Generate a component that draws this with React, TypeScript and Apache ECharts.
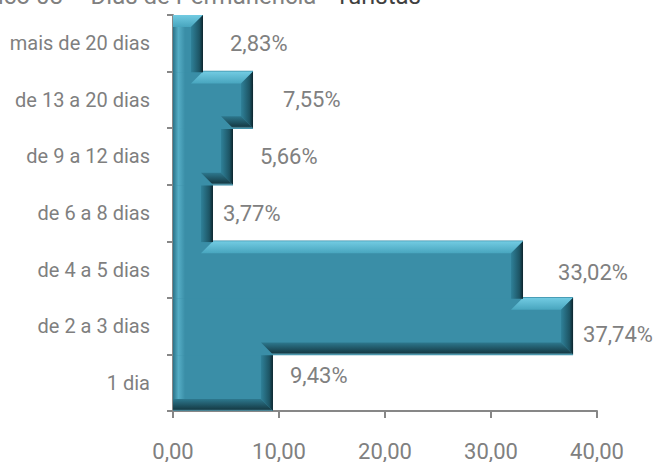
import React, { useEffect, useRef } from "react";
import * as echarts from "echarts";

const categories = [
  "1 dia",
  "de 2 a 3 dias",
  "de 4 a 5 dias",
  "de 6 a 8 dias",
  "de 9 a 12 dias",
  "de 13 a 20 dias",
  "mais de 20 dias",
];
const values = [9.43, 37.74, 33.02, 3.77, 5.66, 7.55, 2.83];
const xTicks = { min: 0, max: 40, interval: 10 };
const titleMain = "Gráfico 08 – Dias de Permanência - ";
const titleEnd = "Turistas";

// label nudges (style only)
const labelDx = [17, 10, 35, 10, 27, 30, 27];
const labelDy = [-7, 8, 3, 0, 0, 0, 0];

const fmt = (v: number, d = 2) => v.toFixed(d).replace(".", ",");

export default function App() {
  const ref = useRef<HTMLDivElement>(null);
  useEffect(() => {
    if (!ref.current) return;
    const chart = echarts.init(ref.current, undefined, { renderer: "svg" });
    const LG = echarts.graphic.LinearGradient;
    const font = "Roboto";
    const option: any = {
      animation: false,
      backgroundColor: "#ffffff",
      grid: { left: 173, right: 63, top: 15, bottom: 49 },
      graphic: [
        {
          type: "text",
          right: 660 - 421,
          top: -16,
          style: {
            text: "{a|" + titleMain + "}{b|" + titleEnd + "}",
            rich: {
              a: { fontSize: 24, fontFamily: font, fill: "#808080" },
              b: { fontSize: 24, fontFamily: font, fill: "#404040" },
            },
          },
        },
      ],
      xAxis: {
        type: "value",
        min: xTicks.min,
        max: xTicks.max,
        interval: xTicks.interval,
        splitLine: { show: false },
        axisLine: { show: true, lineStyle: { color: "#878787", width: 2 } },
        axisTick: { show: true, length: 7, lineStyle: { color: "#878787", width: 2 } },
        axisLabel: {
          margin: 29,
          fontSize: 22,
          fontFamily: font,
          color: "#808080",
          formatter: (v: number) => fmt(v),
        },
      },
      yAxis: {
        type: "category",
        data: categories,
        axisLine: { show: true, lineStyle: { color: "#878787", width: 2 } },
        axisTick: { show: true, length: 6, lineStyle: { color: "#878787", width: 2 } },
        axisLabel: { margin: 23, fontSize: 20, fontFamily: font, color: "#7f7f7f" },
      },
      series: [
        {
          type: "custom",
          encode: { x: 0, y: 1 },
          data: values.map((v, i) => [v, i]),
          z: 1,
          renderItem: (params: any, api: any) => {
            const i = params.dataIndex;
            const v = api.value(0) as number;
            const upper = i + 1 < values.length ? values[i + 1] : 0;
            const lower = i - 1 >= 0 ? values[i - 1] : 0;
            const c0 = api.coord([0, i]);
            const c1 = api.coord([v, i]);
            const h = api.size([0, 1])[1];
            const x0 = c0[0];
            const x1 = c1[0];
            const yc = c1[1];
            const y0 = yc - h / 2;
            const y1 = yc + h / 2;
            const xu = api.coord([upper, i])[0];
            const xl = api.coord([lower, i])[0];
            const b = Math.min(12, (x1 - x0) / 2.2, h / 3);
            const ov = 0.8;
            const children: any[] = [];
            children.push({
              type: "rect",
              shape: {
                x: x0,
                y: y0 - (upper > 0 ? ov : 0),
                width: x1 - x0,
                height: h + (upper > 0 ? ov : 0) + (lower > 0 ? ov : 0),
              },
              style: { fill: "#3a8ea7" },
            });
            children.push({
              type: "rect",
              shape: {
                x: x0,
                y: y0 - (upper > 0 ? ov : 0),
                width: b,
                height: h + (upper > 0 ? ov : 0) + (lower > 0 ? ov : 0),
              },
              style: {
                fill: new LG(0, 0, 1, 0, [
                  { offset: 0, color: "#2b7389" },
                  { offset: 0.45, color: "#55adc5" },
                  { offset: 1, color: "#3a8ea7" },
                ]),
              },
            });
            if (x1 > xu + 0.5) {
              const xa = Math.max(xu, x0);
              const xb = Math.max(xu - b, x0);
              children.push({
                type: "polygon",
                shape: {
                  points: [
                    [xa, y0],
                    [x1, y0],
                    [x1 - b, y0 + b],
                    [xb, y0 + b],
                  ],
                },
                style: {
                  fill: new LG(0, 0, 0, 1, [
                    { offset: 0, color: "#72cbe2" },
                    { offset: 1, color: "#48a5be" },
                  ]),
                },
              });
            }
            const rt = xu >= x1 - 0.5 ? y0 - ov : y0 + b;
            const rb = xl >= x1 - 0.5 ? y1 + ov : y1 - b;
            children.push({
              type: "polygon",
              shape: {
                points: [
                  [x1, xu >= x1 - 0.5 ? y0 - ov : y0],
                  [x1, xl >= x1 - 0.5 ? y1 + ov : y1],
                  [x1 - b, rb],
                  [x1 - b, rt],
                ],
              },
              style: {
                fill: new LG(0, 0, 1, 0, [
                  { offset: 0, color: "#2f8199" },
                  { offset: 0.7, color: "#1d5565" },
                  { offset: 1, color: "#0c242c" },
                ]),
              },
            });
            if (x1 > xl + 0.5) {
              const xa = Math.max(xl, x0);
              const xb = Math.max(xl - b, x0);
              children.push({
                type: "polygon",
                shape: {
                  points: [
                    [xa, y1],
                    [x1, y1],
                    [x1 - b, y1 - b],
                    [xb, y1 - b],
                  ],
                },
                style: {
                  fill: new LG(0, 0, 0, 1, [
                    { offset: 0, color: "#2d788e" },
                    { offset: 0.85, color: "#163d48" },
                    { offset: 1, color: "#5c9fb2" },
                  ]),
                },
              });
            }
            children.push({
              type: "text",
              x: x1 + labelDx[i],
              y: yc + labelDy[i],
              style: {
                text: fmt(v) + "%",
                fill: "#808080",
                fontSize: 22,
                fontFamily: font,
                align: "left",
                verticalAlign: "middle",
              },
            });
            return { type: "group", children };
          },
        },
      ],
    };
    chart.setOption(option);
    return () => chart.dispose();
  }, []);
  return (
    <div
      ref={ref}
      style={{ position: "absolute", left: 0, top: 0, width: 660, height: 462 }}
    />
  );
}
